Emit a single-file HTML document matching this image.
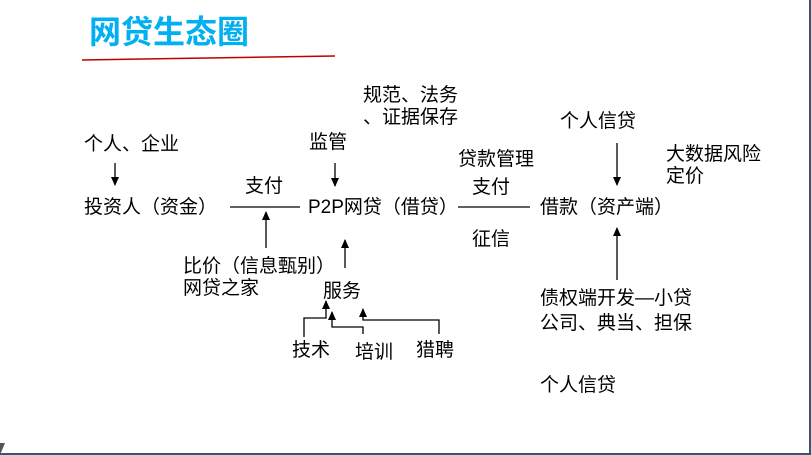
<!DOCTYPE html>
<html><head><meta charset="utf-8"><style>
body{margin:0;width:811px;height:455px;background:#fff;position:relative;overflow:hidden;font-family:"Liberation Sans","Noto Sans CJK SC",sans-serif;}
.t{position:absolute;font-size:19px;line-height:22px;color:#000;white-space:nowrap;}
</style></head><body>
<div class="t" style="left:89px;top:14px;font-size:32px;line-height:36px;font-weight:bold;color:#00b0f0;">网贷生态圈</div>
<svg width="811" height="455" style="position:absolute;left:0;top:0">
<defs><marker id="a" markerWidth="8" markerHeight="9" refX="4" refY="8" markerUnits="userSpaceOnUse"><path d="M0,0 L4,9 L8,0 Z"/></marker>
<marker id="u" markerWidth="8" markerHeight="9" refX="4" refY="1" markerUnits="userSpaceOnUse"><path d="M0,9 L4,0 L8,9 Z"/></marker></defs>
<line x1="82" y1="60" x2="335" y2="56" stroke="#c00000" stroke-width="1.5"/>
<g stroke="#000" stroke-width="1.3" fill="none">
<line x1="230" y1="207" x2="300" y2="207"/>
<line x1="458" y1="207" x2="530" y2="207"/>
<line x1="115" y1="163" x2="115" y2="185" marker-end="url(#a)"/>
<line x1="335" y1="163" x2="335" y2="186" marker-end="url(#a)"/>
<line x1="617" y1="143" x2="617" y2="185" marker-end="url(#a)"/>
<line x1="266" y1="248" x2="266" y2="212" marker-end="url(#u)"/>
<line x1="345" y1="268" x2="345" y2="240" marker-end="url(#u)"/>
<line x1="617" y1="280" x2="617" y2="228" marker-end="url(#u)"/>
<polyline points="304,337 304,318 326,318 326,301" marker-end="url(#u)"/>
<polyline points="363,334 363,327 332,327 332,312" marker-end="url(#u)"/>
<polyline points="439,334 439,320 363,320 363,309" marker-end="url(#u)"/>
</g>
<line x1="810" y1="0" x2="810" y2="455" stroke="#3a5572" stroke-width="2"/>
<line x1="0" y1="454" x2="811" y2="454" stroke="#3a5572" stroke-width="2"/>
<path d="M0,455 L0,443 L5,443 Z" fill="#555"/>
</svg>
<div class="t" style="left:363px;top:85px">规范、法务</div>
<div class="t" style="left:363px;top:107px">、证据保存</div>
<div class="t" style="left:84px;top:134px">个人、企业</div>
<div class="t" style="left:309px;top:132px">监管</div>
<div class="t" style="left:560px;top:111px">个人信贷</div>
<div class="t" style="left:666px;top:144px">大数据风险</div>
<div class="t" style="left:666px;top:166px">定价</div>
<div class="t" style="left:458px;top:149px">贷款管理</div>
<div class="t" style="left:245px;top:176px">支付</div>
<div class="t" style="left:472px;top:177px">支付</div>
<div class="t" style="left:84px;top:197px">投资人（资金）</div>
<div class="t" style="left:308px;top:197px">P2P网贷（借贷）</div>
<div class="t" style="left:540px;top:197px">借款（资产端）</div>
<div class="t" style="left:472px;top:229px">征信</div>
<div class="t" style="left:183px;top:256px">比价（信息甄别）</div>
<div class="t" style="left:183px;top:278px">网贷之家</div>
<div class="t" style="left:323px;top:281px">服务</div>
<div class="t" style="left:292px;top:340px">技术</div>
<div class="t" style="left:355px;top:342px">培训</div>
<div class="t" style="left:416px;top:340px">猎聘</div>
<div class="t" style="left:540px;top:288px">债权端开发—小贷</div>
<div class="t" style="left:540px;top:313px">公司、典当、担保</div>
<div class="t" style="left:540px;top:375px">个人信贷</div>
</body></html>
